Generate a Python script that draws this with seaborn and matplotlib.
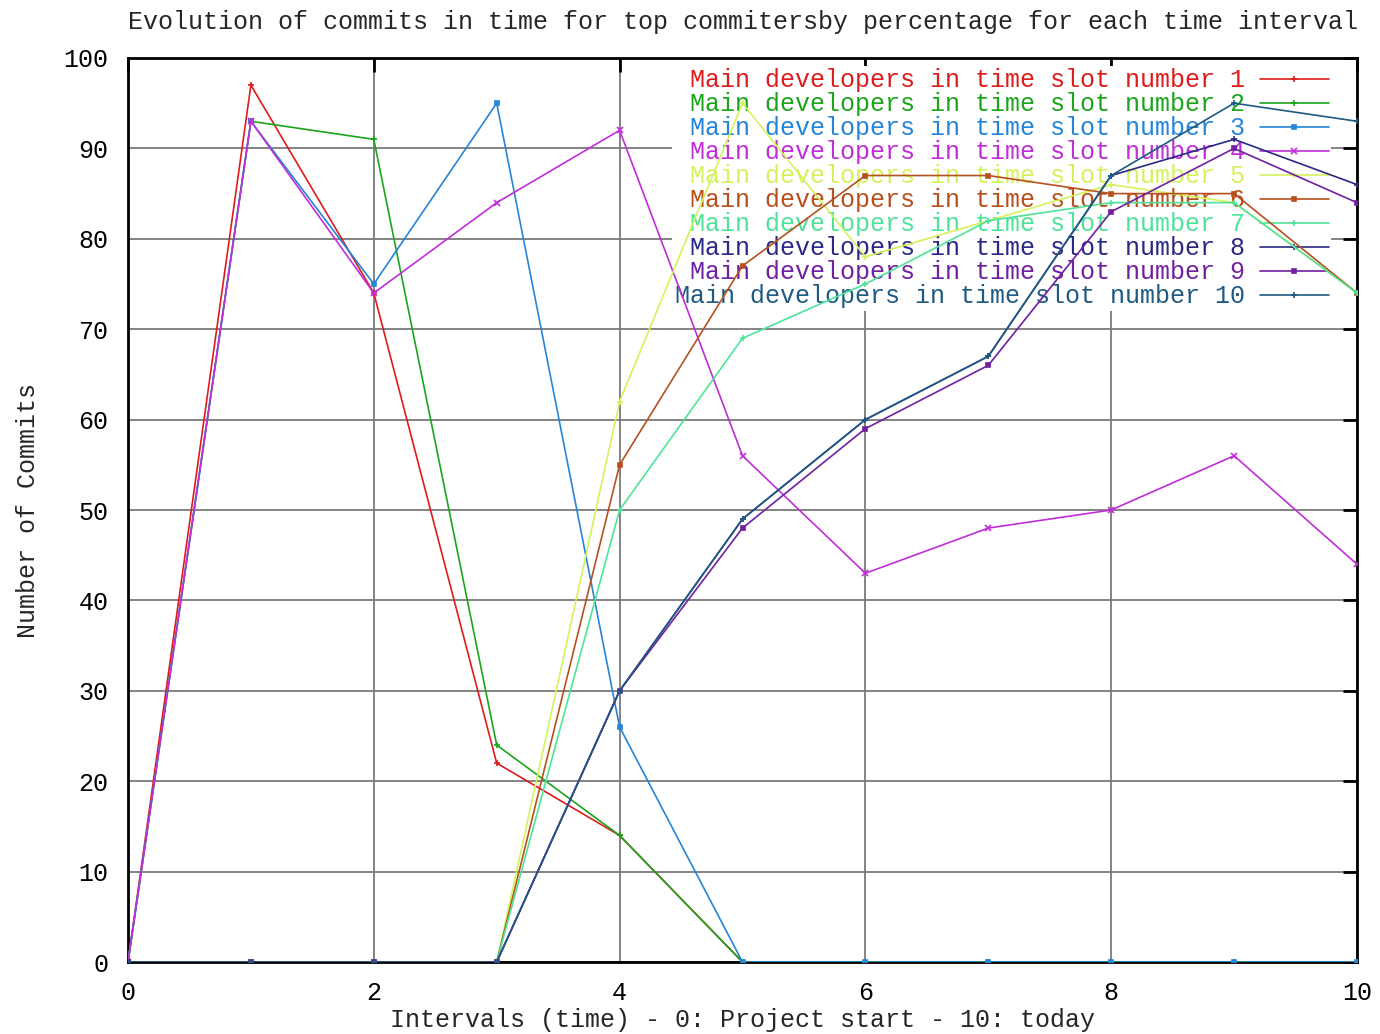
import matplotlib
matplotlib.use("Agg")
import matplotlib.pyplot as plt
import seaborn as sns

# ---------------------------------------------------------
# data
# ---------------------------------------------------------
intervals = [0, 1, 2, 3, 4, 5, 6, 7, 8, 9, 10]

slot1 = [0, 97, 74, 22, 14, 0, 0, 0, 0, 0, 0]
slot2 = [0, 93, 91, 24, 14, 0, 0, 0, 0, 0, 0]
slot3 = [0, 93, 75, 95, 26, 0, 0, 0, 0, 0, 0]
slot4 = [0, 93, 74, 84, 92, 56, 43, 48, 50, 56, 44]
slot5 = [0, 0, 0, 0, 62, 95, 78, 82, 86, 84, 74]
slot6 = [0, 0, 0, 0, 55, 77, 87, 87, 85, 85, 74]
slot7 = [0, 0, 0, 0, 50, 69, 75, 82, 84, 84, 74]
slot8 = [0, 0, 0, 0, 30, 49, 60, 67, 87, 91, 86]
slot9 = [0, 0, 0, 0, 30, 48, 59, 66, 83, 90, 84]
slot10 = [0, 0, 0, 0, 30, 49, 60, 67, 87, 95, 93]

all_slots = [slot1, slot2, slot3, slot4, slot5, slot6, slot7, slot8, slot9, slot10]
labels = [f"Main developers in time slot number {i}" for i in range(1, 11)]
# pad 1..9 so the labels line up on the right like gnuplot's key
labels = [(" " + l if i < 9 else l) for i, l in enumerate(labels)]

colors = ["#dd1c1c", "#1aa51a", "#2585d8", "#c02ed8", "#d4f25a",
          "#b8501e", "#4fe39a", "#2a2a86", "#7020a0", "#1f5a82"]
markers = ["+", "+", "s", "x", "+", "s", "+", "+", "s", "+"]

# ---------------------------------------------------------
# plot
# ---------------------------------------------------------
sns.set_style("white")
plt.rcParams["font.family"] = ["Liberation Mono", "DejaVu Sans Mono"]

fig, ax = plt.subplots(figsize=(13.8, 10.34), dpi=100)
fig.subplots_adjust(left=128 / 1380, right=1357 / 1380, top=1 - 58 / 1034, bottom=1 - 962 / 1034)

for vals, lab, col, mk in zip(all_slots, labels, colors, markers):
    sns.lineplot(x=intervals, y=vals, color=col, marker=mk, markersize=5 if mk != "s" else 3.5,
                 markeredgecolor=col, markeredgewidth=1.2, linewidth=1.2, label=lab, ax=ax, zorder=3)

ax.set_xlim(0, 10)
ax.set_ylim(0, 100)
ax.set_xticks(range(0, 11, 2))
ax.set_yticks(range(0, 101, 10))
ax.grid(True, color="#7a7a7a", linewidth=1.3)
ax.set_axisbelow(True)

for sp in ax.spines.values():
    sp.set_visible(True)
    sp.set_color("black")
    sp.set_linewidth(2)

ax.tick_params(direction="in", length=10, width=2, top=True, right=True,
               labelsize=18, colors="black")
ax.tick_params(axis="y", pad=14)
ax.tick_params(axis="x", pad=14)

ax.set_title("Evolution of commits in time for top commitersby percentage for each time interval",
             fontsize=18, pad=21)
ax.set_xlabel("Intervals (time) - 0: Project start - 10: today", fontsize=18, labelpad=2)
ax.set_ylabel("Number of Commits", fontsize=18, labelpad=17)

handles, labs = ax.get_legend_handles_labels()
leg = ax.legend(handles, labs, loc="upper right", bbox_to_anchor=(1 - 26 / 1229, 1 - 8 / 904),
                markerfirst=False, fontsize=18,
                frameon=True, facecolor="white", edgecolor="none", framealpha=1,
                fancybox=False, handlelength=2.75, handletextpad=0.6,
                labelspacing=0.0, borderpad=0.1, borderaxespad=0)
for t, c in zip(leg.get_texts(), colors):
    t.set_color(c)
leg.set_zorder(2)

plt.savefig("out.png", dpi=100)
